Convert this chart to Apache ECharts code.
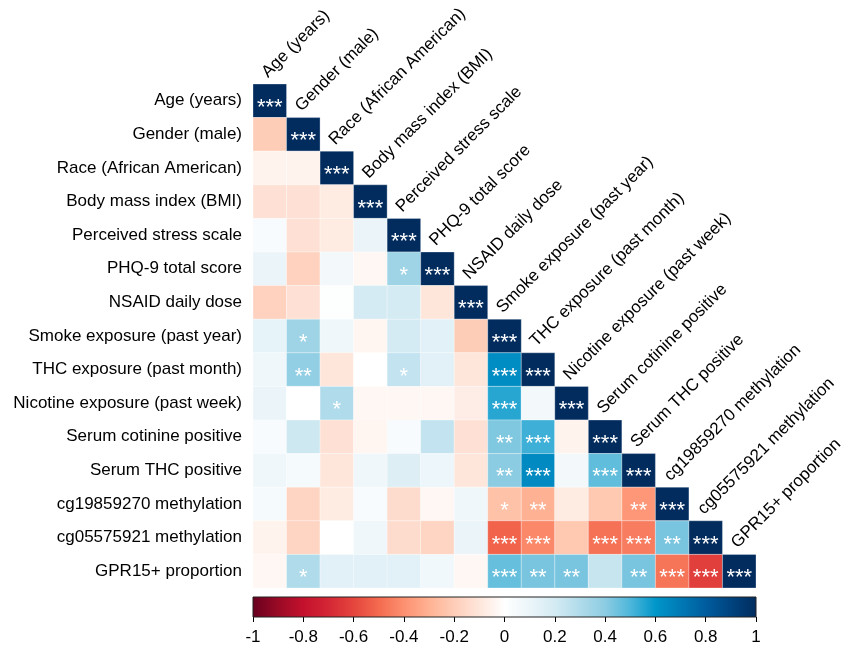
<!DOCTYPE html>
<html>
<head>
<meta charset="utf-8">
<script src="https://cdn.jsdelivr.net/npm/echarts@6/dist/echarts.min.js"></script>
<style>html,body{margin:0;padding:0;background:#fff}#c{width:845px;height:651px}</style>
</head>
<body>
<div id="c"></div>
<script>
var variables = ["Age (years)", "Gender (male)", "Race (African American)", "Body mass index (BMI)",
  "Perceived stress scale", "PHQ-9 total score", "NSAID daily dose", "Smoke exposure (past year)",
  "THC exposure (past month)", "Nicotine exposure (past week)", "Serum cotinine positive",
  "Serum THC positive", "cg19859270 methylation", "cg05575921 methylation", "GPR15+ proportion"];

// lower-triangle correlation values, row by row
var row0 = [1];
var row1 = [-0.2, 1];
var row2 = [-0.05, -0.05, 1];
var row3 = [-0.12, -0.12, -0.08, 1];
var row4 = [0.04, -0.12, -0.08, 0.1, 1];
var row5 = [0.1, -0.18, 0.06, -0.03, 0.35, 1];
var row6 = [-0.18, -0.12, 0.01, 0.2, 0.2, -0.1, 1];
var row7 = [0.12, 0.35, 0.08, -0.04, 0.2, 0.14, -0.2, 1];
var row8 = [0.08, 0.38, -0.1, 0.0, 0.25, 0.14, -0.1, 0.63, 1];
var row9 = [0.1, 0.0, 0.3, -0.03, -0.03, -0.03, -0.07, 0.55, 0.06, 1];
var row10 = [0.04, 0.22, -0.12, -0.04, 0.04, 0.25, -0.12, 0.42, 0.52, -0.05, 1];
var row11 = [0.08, 0.05, -0.1, 0.08, 0.16, 0.09, -0.1, 0.4, 0.64, 0.06, 0.47, 1];
var row12 = [0.05, -0.17, -0.08, 0.04, -0.14, -0.03, 0.08, -0.24, -0.3, -0.08, -0.22, -0.38, 1];
var row13 = [-0.05, -0.17, 0.0, 0.08, -0.14, -0.17, 0.1, -0.52, -0.42, -0.22, -0.48, -0.45, 0.43, 1];
var row14 = [-0.03, 0.3, 0.14, 0.14, 0.14, 0.07, -0.03, 0.46, 0.43, 0.43, 0.24, 0.43, -0.47, -0.62, 1];

// significance stars, row by row
var sig0 = ["***"];
var sig1 = ["", "***"];
var sig2 = ["", "", "***"];
var sig3 = ["", "", "", "***"];
var sig4 = ["", "", "", "", "***"];
var sig5 = ["", "", "", "", "*", "***"];
var sig6 = ["", "", "", "", "", "", "***"];
var sig7 = ["", "*", "", "", "", "", "", "***"];
var sig8 = ["", "**", "", "", "*", "", "", "***", "***"];
var sig9 = ["", "", "*", "", "", "", "", "***", "", "***"];
var sig10 = ["", "", "", "", "", "", "", "**", "***", "", "***"];
var sig11 = ["", "", "", "", "", "", "", "**", "***", "", "***", "***"];
var sig12 = ["", "", "", "", "", "", "", "*", "**", "", "", "**", "***"];
var sig13 = ["", "", "", "", "", "", "", "***", "***", "", "***", "***", "**", "***"];
var sig14 = ["", "*", "", "", "", "", "", "***", "**", "**", "", "**", "***", "***", "***"];

var colorbarTicks = [-1, -0.8, -0.6, -0.4, -0.2, 0, 0.2, 0.4, 0.6, 0.8, 1];
var paletteStops = ["#67001F", "#990A25", "#C3112D", "#D42635", "#E4453D", "#F46A4F", "#FC9070",
  "#FFB293", "#FECDB8", "#FEE6DB", "#FFFFFF", "#EBF5F9", "#D4EBF3", "#B0DBEA", "#8CCCE2", "#4DB6DA",
  "#0096CA", "#0079B4", "#005C9E", "#00437E", "#022C5E"];

var corrRows = [row0,row1,row2,row3,row4,row5,row6,row7,row8,row9,row10,row11,row12,row13,row14];
var sigRows = [sig0,sig1,sig2,sig3,sig4,sig5,sig6,sig7,sig8,sig9,sig10,sig11,sig12,sig13,sig14];

var cells = [];
corrRows.forEach(function (r, i) {
  r.forEach(function (v, j) { cells.push([j, i, v, sigRows[i][j]]); });
});
var diag = variables.map(function (n, k) { return [k, k]; });

var FONT = '"Liberation Sans", Arial, sans-serif';

var chart = echarts.init(document.getElementById('c'));
chart.setOption({
  backgroundColor: '#fff',
  animation: false,
  grid: [
    { left: 253, top: 84, width: 503, height: 504 },
    { left: 253, top: 597, width: 503, height: 20 }
  ],
  xAxis: [
    { type: 'category', data: variables, gridIndex: 0, show: false },
    { type: 'value', gridIndex: 1, min: -1, max: 1, interval: 0.2,
      axisLine: { show: false }, splitLine: { show: false },
      axisTick: { show: true, length: 5, lineStyle: { color: '#000' } },
      axisLabel: { fontSize: 17, color: '#000', fontFamily: FONT, margin: 12,
        formatter: function (v) { return String(Math.round(v * 10) / 10); } } }
  ],
  yAxis: [
    { type: 'category', data: variables, gridIndex: 0, inverse: true,
      axisLine: { show: false }, axisTick: { show: false }, splitLine: { show: false },
      axisLabel: { fontSize: 17, color: '#000', fontFamily: FONT, margin: 11 } },
    { type: 'value', gridIndex: 1, min: 0, max: 1, show: false }
  ],
  visualMap: {
    type: 'continuous', min: -1, max: 1, dimension: 2, seriesIndex: 0, show: false,
    inRange: { color: paletteStops }
  },
  series: [
    {
      type: 'custom', xAxisIndex: 0, yAxisIndex: 0, data: cells,
      renderItem: function (params, api) {
        var c = api.coord([api.value(0), api.value(1)]);
        var s = api.size([1, 1]);
        var st = cells[params.dataIndex][3];
        var children = [{
          type: 'rect',
          shape: { x: c[0] - s[0] / 2, y: c[1] - s[1] / 2, width: s[0], height: s[1] },
          style: { fill: api.visual('color'), stroke: 'rgba(255,255,255,0.5)', lineWidth: 0.6 }
        }];
        if (st) {
          children.push({
            type: 'text', x: c[0], y: c[1] + 7,
            style: { text: st, fill: '#fff', fontSize: 22, fontFamily: FONT,
              align: 'center', verticalAlign: 'middle' }
          });
        }
        return { type: 'group', children: children };
      }
    },
    {
      type: 'custom', xAxisIndex: 0, yAxisIndex: 0, data: diag, silent: true,
      renderItem: function (params, api) {
        var k = api.value(0);
        var c = api.coord([k, k]);
        var s = api.size([1, 1]);
        return {
          type: 'text', x: c[0] + 1, y: c[1] - s[1] / 2 - 3, rotation: Math.PI / 4,
          style: { text: variables[k], fill: '#000', fontSize: 17, fontFamily: FONT,
            align: 'left', verticalAlign: 'bottom' }
        };
      }
    },
    {
      type: 'custom', xAxisIndex: 1, yAxisIndex: 1, data: [[-1, 0]], silent: true,
      renderItem: function (params, api) {
        var a = api.coord([colorbarTicks[0], 1]);
        var b = api.coord([colorbarTicks[colorbarTicks.length - 1], 0]);
        var stops = paletteStops.map(function (col, i) {
          return { offset: i / (paletteStops.length - 1), color: col };
        });
        return {
          type: 'rect',
          shape: { x: a[0], y: a[1], width: b[0] - a[0], height: b[1] - a[1] },
          style: { fill: new echarts.graphic.LinearGradient(0, 0, 1, 0, stops),
            stroke: '#222', lineWidth: 1 }
        };
      }
    }
  ]
});
</script>
</body>
</html>
